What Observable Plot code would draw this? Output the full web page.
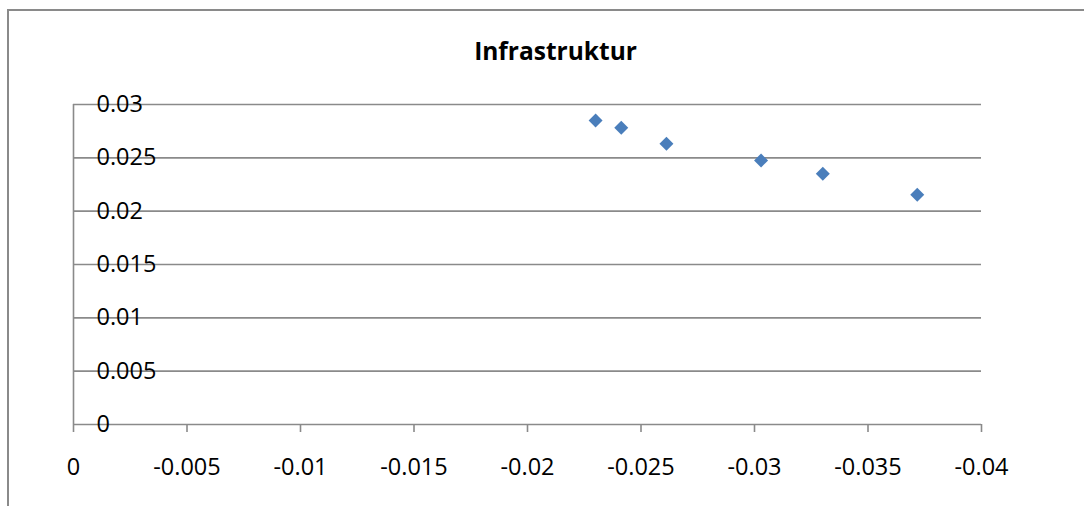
<!DOCTYPE html>
<html>
<head>
<meta charset="utf-8">
<script src="https://cdn.jsdelivr.net/npm/d3@7"></script>
<script src="https://cdn.jsdelivr.net/npm/@observablehq/plot@0.6"></script>
<style>
  html, body { margin: 0; padding: 0; background: #fff; }
  #chart { position: relative; width: 1084px; height: 506px; overflow: hidden; }
  #chart .border {
    position: absolute; left: 7px; top: 9px; width: 1200px; height: 600px;
    border-left: 2px solid #8a8a8a; border-top: 2px solid #8a8a8a;
    pointer-events: none;
  }
  #chart svg { position: absolute; left: 0; top: 0; }
</style>
</head>
<body>
<div id="chart"><div class="border"></div></div>
<script>
// Chart title
const title = "Infrastruktur";

// Series values (x, y)
const xValues = [-0.0230, -0.02413, -0.02612, -0.03029, -0.03301, -0.03717];
const yValues = [0.0285, 0.02781, 0.02631, 0.02475, 0.0235, 0.02153];

// Axis ticks and their labels
const xTicks = [0, -0.005, -0.01, -0.015, -0.02, -0.025, -0.03, -0.035, -0.04];
const xTickLabels = ["0", "-0.005", "-0.01", "-0.015", "-0.02", "-0.025", "-0.03", "-0.035", "-0.04"];
const yTicks = [0, 0.005, 0.01, 0.015, 0.02, 0.025, 0.03];
const yTickLabels = ["0", "0.005", "0.01", "0.015", "0.02", "0.025", "0.03"];

const points = xValues.map((x, i) => ({x, y: yValues[i]}));
const gridColor = "#8a8a8a";
const font = "'Open Sans', sans-serif";
const tickFontSize = 23.5;

const chart = Plot.plot({
  width: 1084,
  height: 506,
  marginLeft: 73,
  marginRight: 103,
  marginTop: 104,
  marginBottom: 82,
  style: {fontFamily: font, fontSize: tickFontSize + "px", color: "#000", background: "transparent", overflow: "visible"},
  x: {domain: [0, -0.04]},
  y: {domain: [0, 0.03]},
  marks: [
    Plot.gridY(yTicks, {stroke: gridColor, strokeOpacity: 1, strokeWidth: 1.6}),
    Plot.ruleX([0], {stroke: gridColor, strokeWidth: 1.6}),
    Plot.axisX(xTicks, {
      anchor: "bottom",
      tickSize: 8,
      tickPadding: 26,
      stroke: gridColor,
      strokeWidth: 1.6,
      tickFormat: d => xTickLabels[xTicks.indexOf(d)],
      fill: "#000",
      fontSize: tickFontSize,
      label: null
    }),
    Plot.axisY(yTicks, {
      anchor: "left",
      tickSize: 0,
      textAnchor: "start",
      dx: 32,
      tickFormat: d => yTickLabels[yTicks.indexOf(d)],
      fill: "#000",
      fontSize: tickFontSize,
      label: null
    }),
    Plot.dot(points, {x: "x", y: "y", symbol: "diamond2", r: 6.3, fill: "#4A7EBB", stroke: "none"}),
    Plot.text([title], {
      frameAnchor: "top",
      dx: 28,
      dy: -52,
      lineAnchor: "middle",
      fontWeight: "bold",
      fontSize: 24.5,
      fill: "#000"
    })
  ]
});

document.getElementById("chart").appendChild(chart);
</script>
</body>
</html>
